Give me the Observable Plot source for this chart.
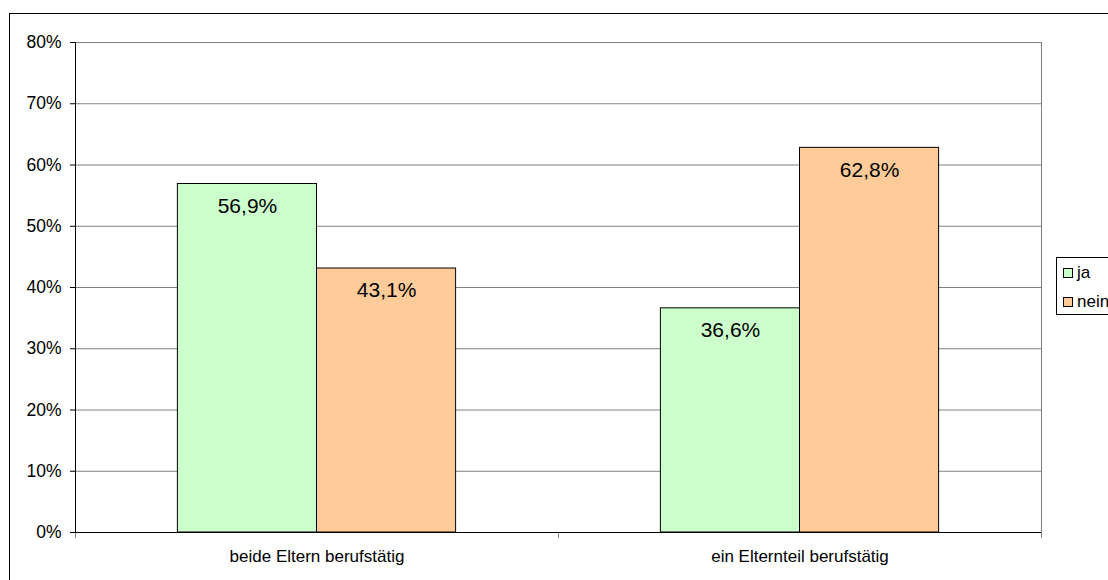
<!DOCTYPE html>
<html>
<head>
<meta charset="utf-8">
<script src="https://cdn.jsdelivr.net/npm/d3@7"></script>
<script src="https://cdn.jsdelivr.net/npm/@observablehq/plot@0.6"></script>
<style>
  html, body { margin: 0; padding: 0; background: #fff; overflow: hidden; width: 1108px; height: 580px; }
  #wrap { position: relative; width: 1108px; height: 580px; font-family: "Liberation Sans", Arial, sans-serif; }
  #border { position: absolute; left: 9px; top: 13px; width: 1200px; height: 700px; border-left: 1px solid #000; border-top: 1px solid #000; pointer-events: none; }
  #legend { position: absolute; left: 1056px; top: 257px; width: 120px; height: 56px; border: 1px solid #000; background: #fff; font-size: 17px; color: #000; }
  .item { position: absolute; left: 6px; display: flex; align-items: center; height: 18px; }
  .sw { width: 8px; height: 8px; border: 1px solid #000; margin-right: 4px; }
  #chart { position: absolute; left: 0; top: 0; }
</style>
</head>
<body>
<div id="wrap">
  <div id="chart"></div>
  <div id="border"></div>
  <div id="legend"></div>
</div>
<script>
const categories = ["beide Eltern berufstätig", "ein Elternteil berufstätig"];
const series = ["ja", "nein"];
const jaValues = [0.569, 0.366];
const neinValues = [0.431, 0.628];
const colors = ["#CCFFCC", "#FFCC99"];
const yTicks = [0, 0.1, 0.2, 0.3, 0.4, 0.5, 0.6, 0.7, 0.8];

const barW = 0.288;
const data = [];
categories.forEach((c, i) => {
  data.push({cat: c, series: "ja", value: jaValues[i], x1: i + 0.5 - barW, x2: i + 0.5});
  data.push({cat: c, series: "nein", value: neinValues[i], x1: i + 0.5, x2: i + 0.5 + barW});
});
const fmt = v => (v * 100).toFixed(1).replace(".", ",") + "%";

const plot = Plot.plot({
  width: 1108,
  height: 580,
  marginLeft: 75,
  marginRight: 67,
  marginTop: 42,
  marginBottom: 48,
  style: {fontFamily: "'Liberation Sans', Arial, sans-serif", background: "transparent", color: "#000"},
  x: {type: "linear", domain: [0, categories.length], axis: null, label: null},
  y: {domain: [0, 0.8], axis: null, label: null},
  color: {domain: series, range: colors},
  marks: [
    Plot.ruleY(yTicks.filter(d => d > 0), {stroke: "#808080", strokeWidth: 1}),
    Plot.ruleX([categories.length], {stroke: "#808080", strokeWidth: 1}),
    Plot.rectY(data, {x1: "x1", x2: "x2", y1: 0, y2: "value", fill: "series", stroke: "#000", strokeWidth: 1}),
    Plot.text(data, {x: d => (d.x1 + d.x2) / 2, y: "value", text: d => fmt(d.value), dy: 22, fontSize: 21, fill: "#000"}),
    Plot.axisY({ticks: yTicks, tickFormat: d3.format(".0%"), tickSize: 5, tickPadding: 9, fontSize: 17.5, stroke: "#000", label: null}),
    Plot.axisX({ticks: [0, 1, 2], tickSize: 6, tickFormat: () => "", stroke: "#808080", label: null}),
    Plot.axisX({ticks: categories.map((c, i) => i + 0.5), tickSize: 0, tickPadding: 17, fontSize: 17, tickFormat: v => categories[Math.floor(v)], label: null}),
    Plot.ruleX([0], {stroke: "#000", strokeWidth: 1}),
    Plot.ruleY([0], {stroke: "#000", strokeWidth: 1})
  ]
});
document.getElementById("chart").appendChild(plot);

const legend = document.getElementById("legend");
series.forEach((s, i) => {
  const it = document.createElement("div");
  it.className = "item";
  it.style.top = (6 + i * 29) + "px";
  const sw = document.createElement("div");
  sw.className = "sw";
  sw.style.background = colors[i];
  const t = document.createElement("span");
  t.textContent = s;
  it.appendChild(sw);
  it.appendChild(t);
  legend.appendChild(it);
});
</script>
</body>
</html>
